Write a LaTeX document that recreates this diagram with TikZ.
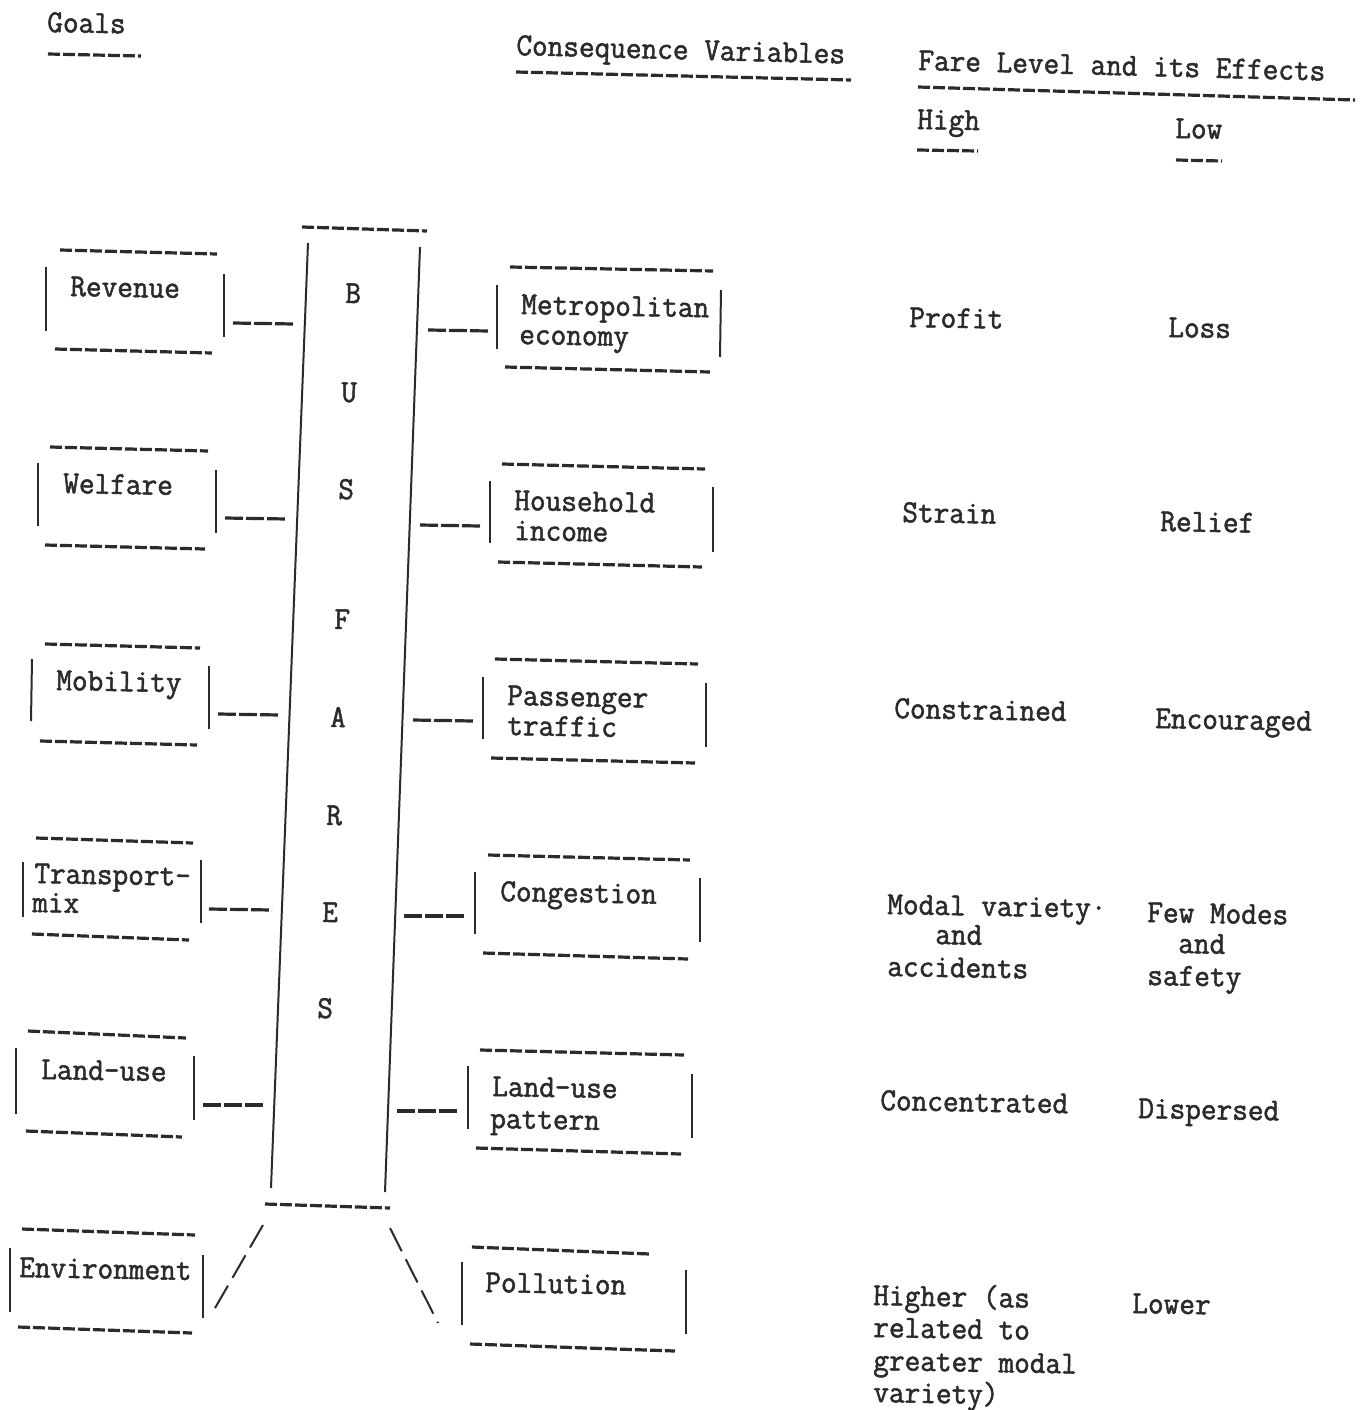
\documentclass[tikz,border=0pt]{standalone}
\usepackage{fontspec}
\newfontfamily\tyfont[FakeStretch=0.95,FakeBold=1.6]{Latin Modern Mono}
\definecolor{ink}{HTML}{2B2B2B}
\begin{document}
\begin{tikzpicture}[x=1pt,y=-1pt,
  dashl/.style={draw=ink,line width=3.2pt,dash pattern=on 12pt off 3pt},
  conn/.style={draw=ink,line width=3.2pt,dash pattern=on 18pt off 3pt},
  slashl/.style={draw=ink,line width=2pt,dash pattern=on 26pt off 9pt},
  bar/.style={draw=ink,line width=2pt},
  txt/.style={font=\tyfont\fontsize{32}{32}\selectfont,text=ink,inner sep=0pt,anchor=base west,rotate=-1},
  letter/.style={txt,anchor=base}]
\useasboundingbox[fill=white] (0,0) rectangle (1366,1410);

% ---------- headers ----------
\node[txt] (hgoals) at (47,32) {Goals};
\draw[dashl] (48,54) -- (141,56);
\node[txt,rotate=-0.5] (hcons) at (516,55) {Consequence Variables};
\draw[dashl] (516,72) -- (851,80);
\node[txt,rotate=-0.5] (hfare) at (918,70) {Fare Level and its Effects};
\draw[dashl] (918,87) -- (1355,100);
\node[txt] (hhigh) at (917,129) {High};
\draw[dashl] (917,150) -- (978,151);
\node[txt] (hlow) at (1175,138) {Low};
\draw[dashl] (1176,160) -- (1222,161);

% ---------- central BUS FARES column ----------
\draw[dashl] (302,227) -- (427,231);
\draw[bar] (308,243) -- (271,1188);
\draw[bar] (420,247) -- (385,1192);
\draw[dashl] (265,1204) -- (390,1208);
\node[letter] (b1) at (353,303) {B};
\node[letter] (b2) at (349,402) {U};
\node[letter] (b3) at (346,499) {S};
\node[letter] (b4) at (342,629) {F};
\node[letter] (b5) at (338,727) {A};
\node[letter] (b6) at (334,825) {R};
\node[letter] (b7) at (330,922) {E};
\node[letter] (b8) at (325,1018) {S};

% ---------- goal boxes ----------
% Revenue
\node[txt] (grev) at (70,296) {Revenue};
\draw[dashl] (60,250) -- (217,254);
\draw[bar] (46,267) -- (46,331);
\draw[bar] (224,274) -- (224,337);
\draw[dashl] (55,349) -- (212,353);
\coordinate (grevE) at (233,323); \coordinate (busW1) at (294,324);
\draw[conn] (grevE) -- (busW1);
% Welfare
\node[txt] (gwel) at (63,493) {Welfare};
\draw[dashl] (50,447) -- (208,451);
\draw[bar] (38,463) -- (38,526);
\draw[bar] (216,470) -- (216,533);
\draw[dashl] (45,545) -- (205,549);
\coordinate (gwelE) at (225,518); \coordinate (busW2) at (287,519);
\draw[conn] (gwelE) -- (busW2);
% Mobility
\node[txt] (gmob) at (56,690) {Mobility};
\draw[dashl] (45,644) -- (200,648);
\draw[bar] (32,659) -- (31,721);
\draw[bar] (209,666) -- (209,729);
\draw[dashl] (40,741) -- (197,745);
\coordinate (gmobE) at (218,714); \coordinate (busW3) at (280,715);
\draw[conn] (gmobE) -- (busW3);
% Transport-mix
\node[txt] (gtra) at (34,883) {Transport-};
\node[txt] (gtra2) at (32,912) {mix};
\draw[dashl] (36,838) -- (193,843);
\draw[bar] (23,862) -- (23,917);
\draw[bar] (201,860) -- (201,923);
\draw[dashl] (32,934) -- (189,940);
\coordinate (gtraE) at (209,909); \coordinate (busW4) at (272,910);
\draw[conn] (gtraE) -- (busW4);
% Land-use
\node[txt] (glan) at (41,1079) {Land-use};
\draw[dashl] (28,1031) -- (186,1038);
\draw[bar] (16,1048) -- (16,1114);
\draw[bar] (194,1056) -- (194,1120);
\draw[dashl] (26,1131) -- (182,1137);
\coordinate (glanE) at (203,1105); \coordinate (busW5) at (263,1105);
\draw[conn] (glanE) -- (busW5);
% Environment
\node[txt] (genv) at (19,1277) {Environment};
\draw[dashl] (22,1229) -- (195,1235);
\draw[bar] (10,1248) -- (10,1312);
\draw[bar] (203,1255) -- (203,1318);
\draw[dashl] (18,1327) -- (192,1333);
\coordinate (busSW) at (263,1225); \coordinate (genvE) at (211,1315);
\draw[slashl] (busSW) -- (genvE);

% ---------- consequence boxes ----------
% Metropolitan economy
\node[txt] (cmet) at (521,314) {Metropolitan};
\node[txt] (cmet2) at (519,344) {economy};
\draw[dashl] (510,267) -- (713,271);
\draw[bar] (497,285) -- (497,349);
\draw[bar] (721,290) -- (720,357);
\draw[dashl] (505,367) -- (710,372);
\coordinate (busE1) at (428,330); \coordinate (cmetW) at (488,331);
\draw[conn] (busE1) -- (cmetW);
% Household income
\node[txt] (chou) at (514,510) {Household};
\node[txt] (chou2) at (514,540) {income};
\draw[dashl] (502,464) -- (705,469);
\draw[bar] (490,481) -- (490,543);
\draw[bar] (713,487) -- (713,552);
\draw[dashl] (498,562) -- (702,567);
\coordinate (busE2) at (420,525); \coordinate (chouW) at (480,526);
\draw[conn] (busE2) -- (chouW);
% Passenger traffic
\node[txt] (cpas) at (507,705) {Passenger};
\node[txt] (cpas2) at (507,735) {traffic};
\draw[dashl] (495,659) -- (698,664);
\draw[bar] (483,677) -- (483,739);
\draw[bar] (706,683) -- (706,747);
\draw[dashl] (491,758) -- (695,763);
\coordinate (busE3) at (413,720); \coordinate (cpasW) at (473,721);
\draw[conn] (busE3) -- (cpasW);
% Congestion
\node[txt] (ccon) at (500,901) {Congestion};
\draw[dashl] (488,855) -- (690,860);
\draw[bar] (475,872) -- (475,934);
\draw[bar] (700,878) -- (700,942);
\draw[dashl] (483,953) -- (688,959);
\coordinate (busE4) at (404,916); \coordinate (cconW) at (465,916);
\draw[conn] (busE4) -- (cconW);
% Land-use pattern
\node[txt] (clan) at (492,1096) {Land-use};
\node[txt] (clan2) at (490,1128) {pattern};
\draw[dashl] (480,1050) -- (684,1055);
\draw[bar] (468,1066) -- (468,1129);
\draw[bar] (692,1074) -- (692,1138);
\draw[dashl] (476,1148) -- (681,1154);
\coordinate (busE5) at (397,1111); \coordinate (clanW) at (458,1111);
\draw[conn] (busE5) -- (clanW);
% Pollution
\node[txt] (cpol) at (485,1292) {Pollution};
\draw[dashl] (472,1247) -- (650,1254);
\draw[bar] (462,1262) -- (462,1325);
\draw[bar] (686,1270) -- (686,1334);
\draw[dashl] (470,1344) -- (675,1351);
\coordinate (busSE) at (390,1228); \coordinate (cpolW) at (438,1323);
\draw[slashl] (busSE) -- (cpolW);

% ---------- effects: high ----------
\node[txt] (hi1) at (909,327) {Profit};
\node[txt] (hi2) at (902,522) {Strain};
\node[txt] (hi3) at (894,718) {Constrained};
\node[txt] (hi4) at (887,914) {Modal variety·};
\node[txt] (hi4b) at (935,944) {and};
\node[txt] (hi4c) at (887,976) {accidents};
\node[txt] (hi5) at (880,1110) {Concentrated};
\node[txt] (hi6) at (873,1305) {Higher (as};
\node[txt] (hi6b) at (873,1337) {related to};
\node[txt] (hi6c) at (873,1370) {greater modal};
\node[txt] (hi6d) at (873,1402) {variety)};

% ---------- effects: low ----------
\node[txt] (lo1) at (1168,337) {Loss};
\node[txt] (lo2) at (1160,531) {Relief};
\node[txt] (lo3) at (1155,728) {Encouraged};
\node[txt] (lo4) at (1147,922) {Few Modes};
\node[txt] (lo4b) at (1178,953) {and};
\node[txt] (lo4c) at (1147,985) {safety};
\node[txt] (lo5) at (1138,1118) {Dispersed};
\node[txt] (lo6) at (1132,1313) {Lower};
\end{tikzpicture}
\end{document}
